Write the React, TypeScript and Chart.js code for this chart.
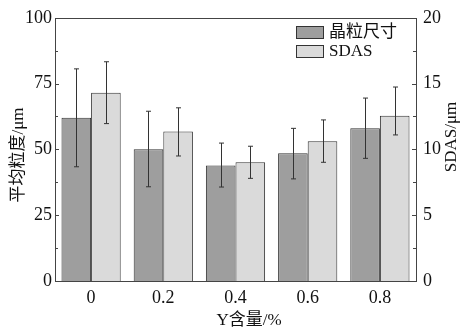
import React, { useEffect, useRef } from 'react';
import { Chart, registerables } from 'chart.js';

Chart.register(...registerables);

const categories = ['0', '0.2', '0.4', '0.6', '0.8'];
const grainSize = [62.0, 50.1, 43.9, 48.5, 58.0];
const grainLow = [43.4, 35.8, 35.7, 38.8, 46.6];
const grainHigh = [80.6, 64.5, 52.4, 58.0, 69.5];
const sdas = [14.3, 11.36, 9.02, 10.62, 12.56];
const sdasLow = [11.96, 9.5, 7.8, 9.02, 11.1];
const sdasHigh = [16.66, 13.16, 10.24, 12.24, 14.74];
const leftTicks = [0, 25, 50, 75, 100];
const rightTicks = [0, 5, 10, 15, 20];

const FONT = "'Liberation Serif', 'Times New Roman', 'Noto Sans CJK SC', serif";
const TEXT = '#111';
const AXIS = '#444';
const DARK = '#9e9e9e';
const LIGHT = '#dadada';

const errors = [
  { low: grainLow, high: grainHigh },
  { low: sdasLow, high: sdasHigh },
];

const decorPlugin = {
  id: 'decor',
  afterDatasetsDraw(chart: any) {
    const ctx = chart.ctx;
    ctx.save();
    ctx.strokeStyle = '#333';
    ctx.lineWidth = 1;
    chart.data.datasets.forEach((ds: any, i: number) => {
      const meta = chart.getDatasetMeta(i);
      const scale = chart.scales[ds.yAxisID];
      meta.data.forEach((bar: any, j: number) => {
        const x = Math.round(bar.x) + 0.5;
        const yl = scale.getPixelForValue(errors[i].low[j]);
        const yh = scale.getPixelForValue(errors[i].high[j]);
        ctx.beginPath();
        ctx.moveTo(x, yl);
        ctx.lineTo(x, yh);
        ctx.moveTo(x - 2.5, yl);
        ctx.lineTo(x + 2.5, yl);
        ctx.moveTo(x - 2.5, yh);
        ctx.lineTo(x + 2.5, yh);
        ctx.stroke();
      });
    });
    ctx.restore();
  },
  afterDraw(chart: any) {
    const ctx = chart.ctx;
    const a = chart.chartArea;
    ctx.save();
    ctx.strokeStyle = AXIS;
    ctx.lineWidth = 1;
    ctx.strokeRect(Math.round(a.left) + 0.5, Math.round(a.top) + 0.5, Math.round(a.right - a.left), Math.round(a.bottom - a.top));
    const y = chart.scales.y;
    const y1 = chart.scales.y1;
    ctx.beginPath();
    for (let v = 0; v <= 100; v += 12.5) {
      const p = Math.round(y.getPixelForValue(v)) + 0.5;
      const len = v % 25 === 0 ? 4 : 3;
      ctx.moveTo(a.left, p);
      ctx.lineTo(a.left + len, p);
    }
    for (let v = 0; v <= 20; v += 2.5) {
      const p = Math.round(y1.getPixelForValue(v)) + 0.5;
      const len = v % 5 === 0 ? 4 : 3;
      ctx.moveTo(a.right, p);
      ctx.lineTo(a.right - len, p);
    }
    ctx.stroke();

    ctx.fillStyle = TEXT;
    ctx.font = `17px ${FONT}`;
    ctx.textAlign = 'center';
    ctx.textBaseline = 'middle';
    ctx.save();
    ctx.translate(19, 155);
    ctx.rotate(-Math.PI / 2);
    ctx.fillText('平均粒度/μm', 0, 0);
    ctx.restore();
    ctx.save();
    ctx.translate(452, 137);
    ctx.rotate(-Math.PI / 2);
    ctx.fillText('SDAS/μm', 0, 0);
    ctx.restore();
    ctx.fillText('Y含量/%', 249, 321);

    const lx = 296;
    const ly = [26, 45];
    chart.data.datasets.forEach((ds: any, i: number) => {
      ctx.fillStyle = ds.backgroundColor;
      ctx.fillRect(lx, ly[i], 27, 12);
      ctx.strokeStyle = '#333';
      ctx.strokeRect(lx + 0.5, ly[i] + 0.5, 27, 12);
      ctx.fillStyle = TEXT;
      ctx.textAlign = 'left';
      ctx.fillText(ds.label, lx + 33, ly[i] + 6.5);
    });
    ctx.restore();
  },
};

export default function App() {
  const ref = useRef<HTMLCanvasElement>(null);
  useEffect(() => {
    document.body.style.margin = '0';
    const chart = new Chart(ref.current as HTMLCanvasElement, {
      type: 'bar',
      data: {
        labels: categories,
        datasets: [
          {
            label: '晶粒尺寸',
            data: grainSize,
            yAxisID: 'y',
            backgroundColor: DARK,
            borderColor: '#333',
            borderWidth: 1,
          },
          {
            label: 'SDAS',
            data: sdas,
            yAxisID: 'y1',
            backgroundColor: LIGHT,
            borderColor: '#333',
            borderWidth: 1,
          },
        ],
      },
      options: {
        responsive: false,
        animation: false,
        layout: { padding: { top: 15, left: 0, right: 0, bottom: 0 } },
        datasets: { bar: { barPercentage: 1, categoryPercentage: 0.82 } },
        plugins: { legend: { display: false }, tooltip: { enabled: false } },
        scales: {
          x: {
            grid: { display: false, drawTicks: false },
            border: { display: false },
            ticks: { color: TEXT, font: { family: FONT, size: 18 }, padding: 6 },
            afterFit: (s: any) => { s.height = 50; },
          },
          y: {
            position: 'left',
            min: 0,
            max: 100,
            afterBuildTicks: (s: any) => { s.ticks = leftTicks.map((v) => ({ value: v })); },
            grid: { display: false, drawTicks: false },
            border: { display: false },
            ticks: { color: TEXT, font: { family: FONT, size: 18 }, padding: 3 },
            afterFit: (s: any) => { s.width = 55; },
          },
          y1: {
            position: 'right',
            min: 0,
            max: 20,
            afterBuildTicks: (s: any) => { s.ticks = rightTicks.map((v) => ({ value: v })); },
            grid: { display: false, drawTicks: false },
            border: { display: false },
            ticks: { color: TEXT, font: { family: FONT, size: 18 }, padding: 7 },
            afterFit: (s: any) => { s.width = 45; },
          },
        },
      },
      plugins: [decorPlugin],
    } as any);
    return () => chart.destroy();
  }, []);
  return (
    <div style={{ width: 461, height: 331 }}>
      <canvas ref={ref} width={461} height={331} />
    </div>
  );
}
